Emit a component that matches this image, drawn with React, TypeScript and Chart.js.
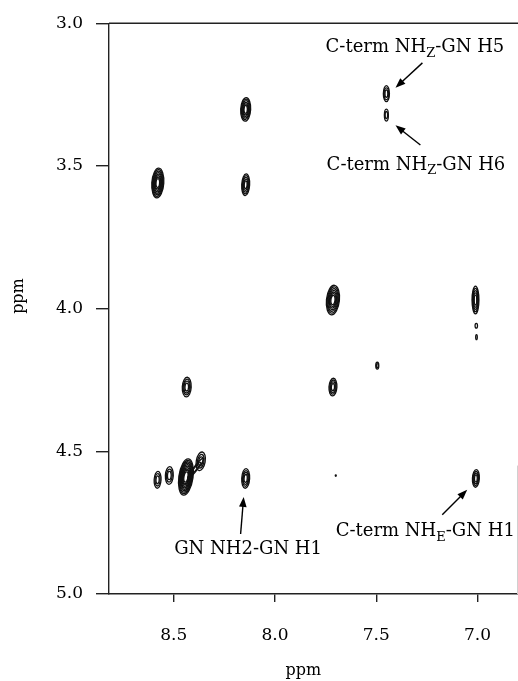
import React, { useEffect, useRef } from "react";
import { Chart, registerables } from "chart.js";

Chart.register(...registerables);

// Axis ranges (ppm) and tick labels
const xMin = 6.8;
const xMax = 8.82;
const yMin = 3.0;
const yMax = 5.0;
const xTicks = [8.5, 8.0, 7.5, 7.0];
const yTicks = [3.0, 3.5, 4.0, 4.5, 5.0];
const xTitle = "ppm";
const yTitle = "ppm";

// Cross peaks: direct (x) and indirect (y) shifts in ppm
const peakX = [8.579, 8.145, 8.145, 7.714, 7.01, 7.006, 7.005, 7.45, 7.45, 8.436, 7.714, 7.495, 8.58, 8.522, 8.44, 8.367, 8.392, 8.145, 7.7, 7.008];
const peakY = [3.56, 3.302, 3.566, 3.97, 3.97, 4.06, 4.1, 3.247, 3.322, 4.275, 4.275, 4.2, 4.6, 4.585, 4.59, 4.535, 4.56, 4.595, 4.585, 4.595];
// Contour extents of each peak (ppm) and number of contour levels
const peakWidth = [0.059, 0.049, 0.039, 0.064, 0.034, 0.012, 0.008, 0.03, 0.02, 0.044, 0.039, 0.015, 0.034, 0.039, 0.07, 0.044, 0.02, 0.039, 0.005, 0.034];
const peakHeight = [0.104, 0.083, 0.076, 0.104, 0.097, 0.017, 0.017, 0.056, 0.042, 0.069, 0.062, 0.024, 0.059, 0.062, 0.128, 0.066, 0.09, 0.069, 0.005, 0.062];
const peakLevels = [8, 6, 5, 7, 5, 1, 1, 3, 2, 4, 4, 2, 3, 3, 10, 3, 2, 4, 1, 4];
const peakTilt = [4, 3, 3, 6, 0, 0, 0, 0, 0, 3, 3, 0, 3, 3, 8, 10, 38, 3, 0, 3];

// Annotations
const annMain = ["C-term NH", "C-term NH", "GN NH2-GN H1", "C-term NH"];
const annSub = ["Z", "Z", "", "E"];
const annTail = ["-GN H5", "-GN H6", "", "-GN H1"];
const annX = [7.309, 7.304, 8.133, 7.258];
const annY = [3.085, 3.497, 4.845, 4.781];
const arrowFromX = [7.272, 7.282, 8.17, 7.174];
const arrowFromY = [3.139, 3.427, 4.79, 4.722];
const arrowToX = [7.405, 7.405, 8.155, 7.051];
const arrowToY = [3.226, 3.358, 4.66, 4.635];

const FONT = "'DejaVu Serif', serif";

const contourPlugin = {
  id: "contours",
  afterDatasetsDraw(chart: any) {
    const { ctx, chartArea, scales } = chart;
    const xs = scales.x;
    const ys = scales.y;
    ctx.save();
    ctx.beginPath();
    ctx.rect(chartArea.left, chartArea.top, chartArea.right - chartArea.left, chartArea.bottom - chartArea.top);
    ctx.clip();
    ctx.strokeStyle = "#111";
    ctx.lineWidth = 1.3;
    for (let i = 0; i < peakX.length; i++) {
      const cx = xs.getPixelForValue(peakX[i]);
      const cy = ys.getPixelForValue(peakY[i]);
      const rx = Math.abs(xs.getPixelForValue(peakX[i] + peakWidth[i] / 2) - xs.getPixelForValue(peakX[i] - peakWidth[i] / 2)) / 2;
      const ry = Math.abs(ys.getPixelForValue(peakY[i] + peakHeight[i] / 2) - ys.getPixelForValue(peakY[i] - peakHeight[i] / 2)) / 2;
      const n = peakLevels[i];
      const rot = (peakTilt[i] * Math.PI) / 180;
      for (let k = 1; k <= n; k++) {
        const f = n === 1 ? 1 : 0.2 + (0.8 * k) / n;
        ctx.beginPath();
        ctx.ellipse(cx, cy, Math.max(rx * f, 0.5), Math.max(ry * f, 0.5), rot, 0, Math.PI * 2);
        ctx.stroke();
      }
    }
    ctx.restore();

    // frame: top line and faint right edge
    ctx.save();
    ctx.strokeStyle = "#222";
    ctx.lineWidth = 1.4;
    ctx.beginPath();
    ctx.moveTo(chartArea.left, chartArea.top);
    ctx.lineTo(chartArea.right, chartArea.top);
    ctx.stroke();
    ctx.strokeStyle = "#d0d0d0";
    ctx.lineWidth = 1;
    ctx.beginPath();
    ctx.moveTo(chartArea.right - 0.5, ys.getPixelForValue(4.55));
    ctx.lineTo(chartArea.right - 0.5, chartArea.bottom);
    ctx.stroke();
    ctx.restore();

    // annotations
    ctx.save();
    ctx.fillStyle = "#000";
    ctx.strokeStyle = "#000";
    ctx.textBaseline = "middle";
    ctx.textAlign = "left";
    const mainFont = `18px ${FONT}`;
    const subFont = `13px ${FONT}`;
    for (let i = 0; i < annMain.length; i++) {
      ctx.font = mainFont;
      const w1 = ctx.measureText(annMain[i]).width;
      const w3 = ctx.measureText(annTail[i]).width;
      ctx.font = subFont;
      const w2 = annSub[i] ? ctx.measureText(annSub[i]).width : 0;
      const total = w1 + w2 + w3;
      const cx = xs.getPixelForValue(annX[i]);
      const cy = ys.getPixelForValue(annY[i]);
      let x = Math.min(cx - total / 2, chartArea.right - 2 - total);
      ctx.font = mainFont;
      ctx.fillText(annMain[i], x, cy);
      x += w1;
      if (annSub[i]) {
        ctx.font = subFont;
        ctx.fillText(annSub[i], x, cy + 6);
        x += w2;
      }
      ctx.font = mainFont;
      ctx.fillText(annTail[i], x, cy);

      // arrow
      const x0 = xs.getPixelForValue(arrowFromX[i]);
      const y0 = ys.getPixelForValue(arrowFromY[i]);
      const x1 = xs.getPixelForValue(arrowToX[i]);
      const y1 = ys.getPixelForValue(arrowToY[i]);
      const ang = Math.atan2(y1 - y0, x1 - x0);
      const hl = 10;
      const hw = 3.8;
      ctx.lineWidth = 1.4;
      ctx.beginPath();
      ctx.moveTo(x0, y0);
      ctx.lineTo(x1 - hl * 0.7 * Math.cos(ang), y1 - hl * 0.7 * Math.sin(ang));
      ctx.stroke();
      ctx.beginPath();
      ctx.moveTo(x1, y1);
      ctx.lineTo(x1 - hl * Math.cos(ang) + hw * Math.sin(ang), y1 - hl * Math.sin(ang) - hw * Math.cos(ang));
      ctx.lineTo(x1 - hl * Math.cos(ang) - hw * Math.sin(ang), y1 - hl * Math.sin(ang) + hw * Math.cos(ang));
      ctx.closePath();
      ctx.fill();
    }
    ctx.restore();

    // axis titles
    ctx.save();
    ctx.fillStyle = "#000";
    ctx.font = `16px ${FONT}`;
    ctx.textAlign = "center";
    ctx.textBaseline = "middle";
    const xt = chartArea.left + (chartArea.right - chartArea.left) * 0.475;
    ctx.fillText(xTitle, xt, 671);
    ctx.translate(19, chartArea.top + (chartArea.bottom - chartArea.top) * 0.478);
    ctx.rotate(-Math.PI / 2);
    ctx.fillText(yTitle, 0, 0);
    ctx.restore();
  },
};

export default function App() {
  const ref = useRef<HTMLCanvasElement | null>(null);
  useEffect(() => {
    if (!ref.current) return;
    const chart = new Chart(ref.current, {
      type: "scatter",
      data: {
        datasets: [
          {
            label: "peaks",
            data: peakX.map((x, i) => ({ x, y: peakY[i] })),
            pointRadius: 0,
            pointHoverRadius: 0,
            showLine: false,
          },
        ],
      },
      options: {
        responsive: false,
        animation: false,
        events: [],
        layout: { padding: { top: 17, right: 0, left: 0, bottom: 0 } },
        plugins: { legend: { display: false }, tooltip: { enabled: false } },
        scales: {
          x: {
            type: "linear",
            min: xMin,
            max: xMax,
            reverse: true,
            afterBuildTicks: (s: any) => {
              s.ticks = xTicks.map((v) => ({ value: v }));
            },
            afterFit: (s: any) => {
              s.height = 87;
            },
            ticks: {
              color: "#000",
              font: { family: FONT, size: 17 },
              padding: 23,
              maxRotation: 0,
              autoSkip: false,
              callback: (v: any) => Number(v).toFixed(1),
            },
            grid: { drawOnChartArea: false, drawTicks: true, tickLength: 8, color: "#222", lineWidth: 1.4 },
            border: { display: true, color: "#222", width: 1.4 },
          },
          y: {
            type: "linear",
            min: yMin,
            max: yMax,
            reverse: true,
            afterBuildTicks: (s: any) => {
              s.ticks = yTicks.map((v) => ({ value: v }));
            },
            afterFit: (s: any) => {
              s.width = 109;
            },
            ticks: {
              color: "#000",
              font: { family: FONT, size: 17 },
              padding: 13,
              autoSkip: false,
              callback: (v: any) => Number(v).toFixed(1),
            },
            grid: { drawOnChartArea: false, drawTicks: true, tickLength: 13, color: "#222", lineWidth: 1.4 },
            border: { display: true, color: "#222", width: 1.4 },
          },
        },
      },
      plugins: [contourPlugin],
    } as any);
    return () => chart.destroy();
  }, []);
  return (
    <div style={{ position: "fixed", left: 0, top: 0, width: 518, height: 681, background: "#fff" }}>
      <canvas ref={ref} width={518} height={681} style={{ display: "block" }} />
    </div>
  );
}
